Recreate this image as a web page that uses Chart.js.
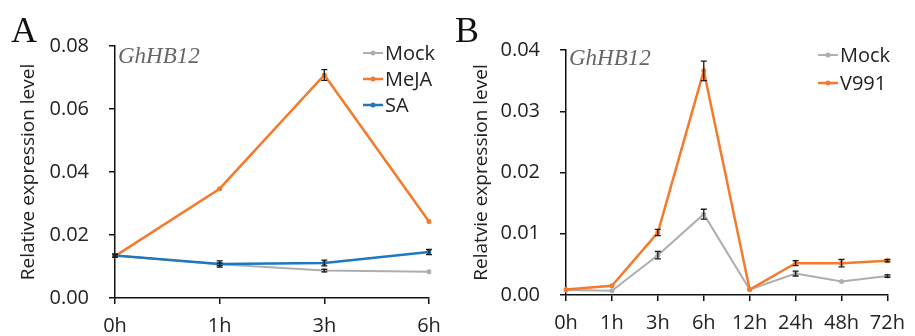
<!DOCTYPE html>
<html>
<head>
<meta charset="utf-8">
<script src="https://cdn.jsdelivr.net/npm/chart.js@4.4.1/dist/chart.umd.min.js"></script>
<style>
  html, body { margin: 0; padding: 0; background: #fff; }
  .wrap { position: absolute; top: 0; height: 336px; }
  #wa { left: 0; width: 455px; }
  #wb { left: 455px; width: 460px; }
</style>
</head>
<body>
<div class="wrap" id="wa"><canvas id="chartA" width="455" height="336"></canvas></div>
<div class="wrap" id="wb"><canvas id="chartB" width="460" height="336"></canvas></div>
<script>
// panel A: hormone treatments
const timesA = ["0h", "1h", "3h", "6h"];
const mockA = [0.0135, 0.0107, 0.0087, 0.0083];
const mockAErr = [0.0003, 0.0004, 0.0004, 0.0002];
const mejaA = [0.0133, 0.0347, 0.0708, 0.0243];
const mejaAErr = [0.0004, 0.0003, 0.0017, 0.0003];
const saA = [0.0135, 0.0108, 0.0111, 0.0146];
const saAErr = [0.0005, 0.0010, 0.0009, 0.0008];
const ticksA = [0, 0.02, 0.04, 0.06, 0.08];

// panel B: V991 infection
const timesB = ["0h", "1h", "3h", "6h", "12h", "24h", "48h", "72h"];
const mockB = [0.0008, 0.0007, 0.0065, 0.0132, 0.0009, 0.0035, 0.0022, 0.0031];
const mockBErr = [0.0001, 0.0001, 0.0006, 0.0008, 0.0001, 0.0004, 0.0001, 0.0002];
const v991B = [0.0009, 0.0015, 0.0102, 0.0366, 0.0009, 0.0052, 0.0052, 0.0056];
const v991BErr = [0.0001, 0.0001, 0.0005, 0.0016, 0.0001, 0.0004, 0.0006, 0.0002];
const ticksB = [0, 0.01, 0.02, 0.03, 0.04];

const GRAY = "#aeaeae";
const ORANGE = "#f47a2c";
const BLUE = "#1f77bd";
const TEXT = "#222";
const SANS = "'Open Sans', 'DejaVu Sans', sans-serif";
const SERIF = "'Liberation Serif', 'DejaVu Serif', serif";

function series(label, data, err, color, order) {
  return {
    label, data, err, order,
    borderColor: color,
    backgroundColor: color,
    borderWidth: color === GRAY ? 2 : 2.5,
    pointRadius: 2.5,
    pointBorderWidth: 0,
    pointHoverRadius: 2.5,
    tension: 0,
  };
}

// error bars, panel letter, gene name and the legend
const decor = {
  id: "decor",
  afterDatasetsDraw(chart) {
    const { ctx } = chart;
    const x = chart.scales.x;
    const y = chart.scales.y;
    ctx.save();
    ctx.strokeStyle = "#1a1a1a";
    ctx.lineWidth = 1.3;
    chart.data.datasets.forEach((ds) => {
      ds.data.forEach((v, i) => {
        const e = ds.err[i];
        const px = x.getPixelForValue(i);
        const top = y.getPixelForValue(v + e);
        const bot = y.getPixelForValue(v - e);
        if (bot - top < 2) return;
        ctx.beginPath();
        ctx.moveTo(px, top);
        ctx.lineTo(px, bot);
        ctx.moveTo(px - 3, top);
        ctx.lineTo(px + 3, top);
        ctx.moveTo(px - 3, bot);
        ctx.lineTo(px + 3, bot);
        ctx.stroke();
      });
    });
    ctx.restore();
  },
  afterDraw(chart, args, opts) {
    const { ctx } = chart;
    ctx.save();
    ctx.fillStyle = "#111";
    ctx.font = `36px ${SERIF}`;
    ctx.textBaseline = "alphabetic";
    ctx.fillText(opts.letter, opts.letterX, 42);

    ctx.fillStyle = "#666";
    ctx.font = `italic 23px ${SERIF}`;
    ctx.fillText("GhHB12", opts.geneX, opts.geneY);

    ctx.font = `20px ${SANS}`;
    ctx.textBaseline = "middle";
    chart.data.datasets.forEach((ds, i) => {
      const ly = opts.legendY + i * opts.legendGap;
      ctx.strokeStyle = ds.borderColor;
      ctx.lineWidth = ds.borderWidth;
      ctx.beginPath();
      ctx.moveTo(opts.legendX, ly);
      ctx.lineTo(opts.legendX + 20, ly);
      ctx.stroke();
      ctx.fillStyle = ds.borderColor;
      ctx.beginPath();
      ctx.arc(opts.legendX + 10, ly, 2.5, 0, Math.PI * 2);
      ctx.fill();
      ctx.fillStyle = TEXT;
      ctx.fillText(ds.label, opts.legendX + 22, ly + 1);
    });
    ctx.restore();
  },
};

function makeChart(id, labels, datasets, tickVals, cfg) {
  return new Chart(document.getElementById(id), {
    type: "line",
    data: { labels, datasets },
    plugins: [decor],
    options: {
      responsive: false,
      devicePixelRatio: 1,
      animation: false,
      events: [],
      layout: { padding: { top: cfg.top, right: cfg.right, left: 0, bottom: 0 } },
      scales: {
        x: {
          type: "category",
          offset: false,
          afterFit: (s) => { s.height = cfg.xHeight; },
          grid: { drawOnChartArea: false, drawTicks: true, tickLength: 6, color: "#111", lineWidth: 1.5 },
          border: { display: true, color: "#111", width: 1.5 },
          ticks: { color: TEXT, font: { family: SANS, size: 20 }, padding: 10, maxRotation: 0, autoSkip: false },
        },
        y: {
          min: tickVals[0],
          max: tickVals[tickVals.length - 1],
          afterFit: (s) => { s.width = cfg.yWidth; },
          afterBuildTicks: (s) => { s.ticks = tickVals.map((v) => ({ value: v })); },
          grid: { drawOnChartArea: false, drawTicks: true, tickLength: 6, color: "#111", lineWidth: 1.5 },
          border: { display: true, color: "#111", width: 1.5 },
          ticks: {
            color: TEXT,
            font: { family: SANS, size: 20 },
            padding: 20,
            callback: (v) => Number(v).toFixed(2),
          },
          title: {
            display: true,
            text: cfg.yTitle,
            color: TEXT,
            font: { family: SANS, size: 19 },
            padding: { top: cfg.titlePad, bottom: 0 },
          },
        },
      },
      plugins: {
        legend: { display: false },
        tooltip: { enabled: false },
        decor: cfg.decor,
      },
    },
  });
}

makeChart("chartA", timesA, [
  series("Mock", mockA, mockAErr, GRAY, 3),
  series("MeJA", mejaA, mejaAErr, ORANGE, 2),
  series("SA", saA, saAErr, BLUE, 1),
], ticksA, {
  top: 46, right: 26, xHeight: 38, yWidth: 115, titlePad: 17,
  yTitle: "Relative expression level",
  decor: { letter: "A", letterX: 11, geneX: 118, geneY: 63, legendX: 363, legendY: 53, legendGap: 26 },
});

makeChart("chartB", timesB, [
  series("Mock", mockB, mockBErr, GRAY, 2),
  series("V991", v991B, v991BErr, ORANGE, 1),
], ticksB, {
  top: 50, right: 18, xHeight: 41, yWidth: 111, titlePad: 15,
  yTitle: "Relatvie expression level",
  decor: { letter: "B", letterX: 0, geneX: 114, geneY: 65, legendX: 363, legendY: 55, legendGap: 28 },
});
</script>
</body>
</html>
